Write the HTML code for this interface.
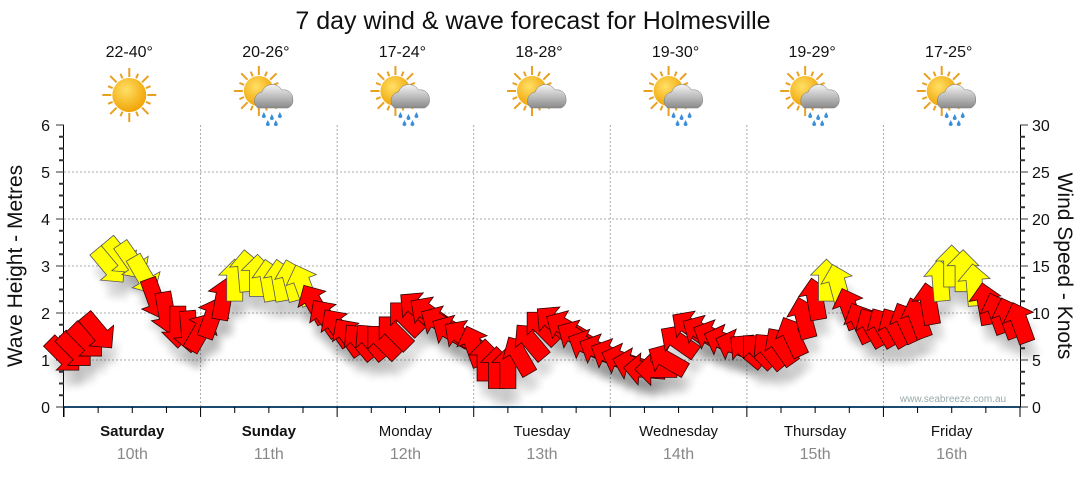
<!DOCTYPE html>
<html><head><meta charset="utf-8"><style>
body{margin:0;background:#fff;font-family:"Liberation Sans",sans-serif;}
svg text{font-family:"Liberation Sans","DejaVu Sans",sans-serif;}
</style></head><body>
<svg id="c" width="1080" height="475" xmlns="http://www.w3.org/2000/svg">
<defs>
<filter id="sh" x="-50%" y="-50%" width="200%" height="200%"><feGaussianBlur stdDeviation="4"/></filter>
<radialGradient id="sun" cx="0.4" cy="0.35" r="0.7"><stop offset="0" stop-color="#ffe066"/><stop offset="1" stop-color="#f0a000"/></radialGradient>
<linearGradient id="cl" x1="0" y1="0" x2="0" y2="1"><stop offset="0" stop-color="#f4f4f4"/><stop offset="1" stop-color="#8a8a8a"/></linearGradient>
</defs>
<text x="533" y="29" font-size="25" text-anchor="middle" fill="#111">7 day wind &amp; wave forecast for Holmesville</text>
<g id="grid"></g><g id="axes"></g><g id="icons"></g><g id="shadows"></g><g id="arrows"></g>
<text x="953" y="402" font-size="10" fill="#9aa" text-anchor="middle">www.seabreeze.com.au</text>
<text transform="translate(22,266) rotate(-90)" font-size="21" text-anchor="middle" fill="#111">Wave Height - Metres</text>
<text transform="translate(1058,266) rotate(90)" font-size="21" text-anchor="middle" fill="#111">Wind Speed - Knots</text>
</svg>
<script>
const days=["Saturday","Sunday","Monday","Tuesday","Wednesday","Thursday","Friday"];
const dates=["10th","11th","12th","13th","14th","15th","16th"];
const temps=["22-40°","20-26°","17-24°","18-28°","19-30°","19-29°","17-25°"];
const icons=["sun","rain","rain","cloud","rain","rain","rain"];
const yTicksLeft=[0,1,2,3,4,5,6];
const yTicksRight=[0,5,10,15,20,25,30];
// wind speed (knots) every 2 hours
const windSpeed=[5.5,6,7,8,15,16,15.5,14,11.5,10,8.5,8,
8,9.5,11.5,13.5,14.5,14,13.5,13.5,13.5,13,11,9.5,
8.5,7.5,7,7,7,8,9.5,10.5,10,9,8,7.5,
6.5,5,4.2,4.2,5.5,7,8.5,9,8.5,7.5,6.5,6,
5.5,5,4.5,4,4,5,7,8.5,8,7.5,7,6.5,
6,6,6,6.5,7.5,9.5,11.5,13.5,13,10.5,9,8.5,
8.5,8.5,9,9.5,11,13.5,15,14.5,13,11,10,9.5,9];
// arrow pointing direction (deg clockwise from up), every 2 hours
const windDir=[135,135,135,140,140,140,145,150,160,170,180,175,
30,20,10,0,-5,0,-10,-10,-15,-20,-30,-35,
-35,-35,-40,-40,-45,-45,-45,-50,-55,-60,-60,-55,
-20,0,0,0,-30,-40,-45,-50,-60,-60,-65,-65,
-65,-70,-75,-85,-90,-60,-55,-55,-60,-65,-70,-70,
-50,-45,-40,-35,-25,-15,-10,0,-15,-20,-25,-30,
-30,-30,-25,-20,-10,-5,0,0,-5,-10,-20,-20,-20];
const STEP=2;
const X0=64,X1=1020,Y0=407,Y1=125,HOURS=168;
const xs=h=>X0+(X1-X0)*h/HOURS;
const ym=m=>Y0-(Y0-Y1)*m/6;
const yk=k=>Y0-(Y0-Y1)*k/30;
const NS="http://www.w3.org/2000/svg";
function mk(tag,attrs,parent,txt){const e=document.createElementNS(NS,tag);for(const k in attrs)e.setAttribute(k,attrs[k]);if(txt!=null)e.textContent=txt;parent.appendChild(e);return e;}
const grid=document.getElementById('grid'),axes=document.getElementById('axes'),ic=document.getElementById('icons'),sh=document.getElementById('shadows'),ar=document.getElementById('arrows');
for(let i=1;i<6;i++){const l=mk('line',{x1:X0,x2:X1,y1:ym(i),y2:ym(i),stroke:'#aaa','stroke-dasharray':'2,2'},grid);

}
for(let d=1;d<7;d++){const l=mk('line',{x1:xs(d*24),x2:xs(d*24),y1:Y1,y2:Y0,stroke:'#aaa','stroke-dasharray':'2,2'},grid);

}
mk('line',{x1:X0-0.5,x2:X0-0.5,y1:Y1,y2:Y0+10,stroke:'#000'},axes);
mk('line',{x1:X1+0.5,x2:X1+0.5,y1:Y1,y2:Y0,stroke:'#000'},axes);
mk('line',{x1:X0,x2:X1,y1:Y0,y2:Y0,stroke:'#1a4a70','stroke-width':2},axes);
for(let i=0;i<=24;i++){const y=Y0-(Y0-Y1)*i/24;const big=i%4==0;
mk('line',{x1:X0-(big?8:5),x2:X0,y1:y,y2:y,stroke:'#333','stroke-width':big?1:2},axes);
mk('line',{x1:X1,x2:X1+(big?8:5),y1:y,y2:y,stroke:'#333','stroke-width':big?1:2},axes);}
yTicksLeft.forEach(v=>{const t=mk('text',{x:50,y:ym(v)+6,'font-size':16,'text-anchor':'end',fill:'#111'},axes,v);

});
yTicksRight.forEach(v=>{const t=mk('text',{x:1032,y:yk(v)+6,'font-size':16,fill:'#111'},axes,v);

});
for(let h=0;h<=HOURS;h+=6){mk('line',{x1:xs(h),x2:xs(h),y1:Y0,y2:Y0+(h%24==0?10:6),stroke:'#000'},axes);}
days.forEach((d,i)=>{const cx=xs(i*24+12);
const t=mk('text',{x:cx,y:436,'font-size':15,'text-anchor':'middle',fill:'#111','font-weight':i<2?'bold':'normal'},axes,d);


const t2=mk('text',{x:cx,y:459,'font-size':16,'text-anchor':'middle',fill:'#888'},axes,dates[i]);


const t3=mk('text',{x:cx-3,y:57,'font-size':16,'text-anchor':'middle',fill:'#111'},ic,temps[i]);


const g=mk('g',{transform:`translate(${cx-3},95)`},ic);


const sun=icons[i]=='sun';
const sx=sun?0:-7, sy=sun?0:-4, r=sun?17:15;
for(let k=0;k<16;k++){const a=k*Math.PI/8;mk('line',{x1:sx+Math.cos(a)*(r+1),y1:sy+Math.sin(a)*(r+1),x2:sx+Math.cos(a)*(k%2?r+6:r+10),y2:sy+Math.sin(a)*(k%2?r+6:r+10),stroke:'#e8a020','stroke-width':2},g);}
mk('circle',{cx:sx,cy:sy,r:r,fill:'url(#sun)'},g);
if(!sun){
mk('path',{d:'M-8,13 a9,9 0 0 1 4,-16 a11,11 0 0 1 20,-2 a9,9 0 0 1 11,9 a8,8 0 0 1 -5,9 z',fill:'url(#cl)',stroke:'#777','stroke-width':0.5},g);
if(icons[i]=='rain'){[[-2,17],[6,19],[14,17],[2,25],[10,25]].forEach(p=>mk('path',{d:`M${p[0]},${p[1]} l-2,4 a2,2 0 0 0 4,0 z`,fill:'#3a8fd8'},g));}
}
});
const ARROW='M0,-21 L16,-5 L8,-5 L8,21 L-8,21 L-8,-5 L-16,-5 Z';
windSpeed.forEach((v,i)=>{const x=xs(i*STEP),y=yk(v);
const s=mk('path',{d:ARROW,transform:`translate(${x+4},${y+16}) rotate(${windDir[i]})`,fill:'#000',opacity:0.15,filter:'url(#sh)'},sh);


const p=mk('path',{d:ARROW,transform:`translate(${x},${y}) rotate(${windDir[i]})`,fill:v>=12?'#ffff00':'#ff0000',stroke:v>=12?'#555':'#300','stroke-width':0.8},ar);


});
</script>
</body></html>
